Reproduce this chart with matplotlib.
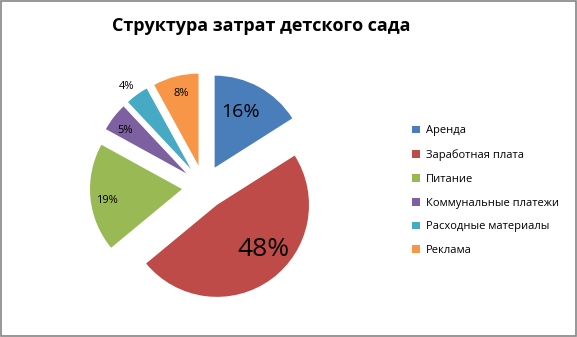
import numpy as np
import matplotlib
matplotlib.use('Agg')
import matplotlib.pyplot as plt
from matplotlib.patches import Rectangle, Patch

plt.rcParams['font.family'] = ['Open Sans', 'DejaVu Sans']

# данные
categories = ['Аренда', 'Заработная плата', 'Питание', 'Коммунальные платежи',
              'Расходные материалы', 'Реклама']
shares = [16, 48, 19, 5, 4, 8]
colors = ['#4A7EBB', '#BE4B48', '#98B954', '#7D60A0', '#46AAC5', '#F79646']

# подписи: расстояние от вершины сектора (в радиусах), сдвиг угла, размер шрифта
lbl_dist = [0.67, 0.70, 0.82, 0.81, 1.14, 0.81]
lbl_rot = [4.3, 9.6, 3, 3, 1.6, -1]
lbl_size = [14, 19, 8, 8, 8, 8]

W, H = 577, 337
fig = plt.figure(figsize=(W / 100, H / 100), dpi=100)

# оси круга: центр (204, 187) px, радиус 92 px
cx, cy, R, L = 204, 187, 92, 130
ax = fig.add_axes([(cx - L) / W, (H - cy - L) / H, 2 * L / W, 2 * L / H])
expl = 0.24
wedges, _ = ax.pie(shares, colors=colors, startangle=90, counterclock=False,
                   explode=[expl] * len(shares), radius=1,
                   wedgeprops=dict(linewidth=0))
ax.set_xlim(-L / R, L / R)
ax.set_ylim(-L / R, L / R)
ax.axis('off')

for w, s, d, r, fs in zip(wedges, shares, lbl_dist, lbl_rot, lbl_size):
    mid = np.deg2rad((w.theta1 + w.theta2) / 2 + r)
    tx, ty = w.center
    ax.text(tx + d * np.cos(mid), ty + d * np.sin(mid), f'{s}%',
            ha='center', va='center', fontsize=fs, color='black')

# заголовок
fig.text(261 / W, 1 - 26 / H, 'Структура затрат детского сада',
         ha='center', va='center', fontsize=13, fontweight='bold')

# легенда
handles = [Patch(facecolor=c, edgecolor='none') for c in colors]
fig.legend(handles, categories, loc='upper left',
           bbox_to_anchor=(408 / W, 1 - 121 / H), frameon=False,
           fontsize=8, handlelength=0.7, handleheight=0.7, handletextpad=0.5,
           labelspacing=1.15, borderaxespad=0)

# рамка
fig.patches.append(Rectangle((0.7 / W, 0.7 / H), 1 - 1.4 / W, 1 - 1.4 / H,
                             transform=fig.transFigure, fill=False,
                             edgecolor='#858585', linewidth=1.2))

fig.savefig('out.png', dpi=100)
